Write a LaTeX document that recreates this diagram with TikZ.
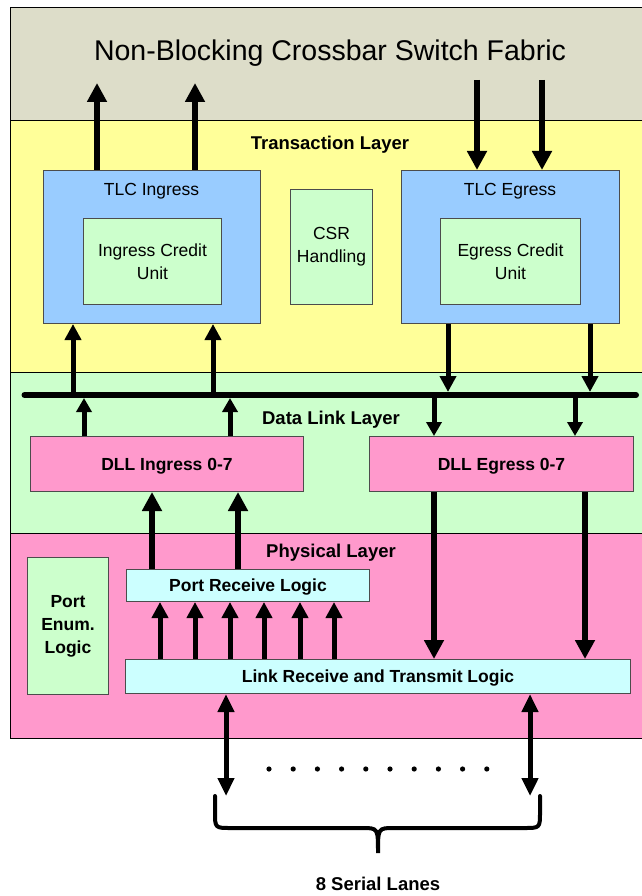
\documentclass[tikz,border=0pt]{standalone}
\usepackage{fontspec}
\setmainfont{Liberation Sans}
\usetikzlibrary{arrows.meta}
\definecolor{xbarc}{HTML}{DDDDC9}
\definecolor{tlc}{HTML}{FFFF99}
\definecolor{dlc}{HTML}{CCFFCC}
\definecolor{plc}{HTML}{FF99CC}
\definecolor{bluec}{HTML}{99CCFF}
\definecolor{greenc}{HTML}{CCFFCC}
\definecolor{cyanc}{HTML}{CCFFFF}
\begin{document}
\begin{tikzpicture}[x=1pt,y=-1pt,
  layer/.style={draw=black, line width=1pt, inner sep=0pt, anchor=north west},
  box/.style={draw=black!70, line width=1pt, inner sep=0pt, anchor=north west, align=center,
              font=\fontsize{17.5}{23}\selectfont},
  bbox/.style={box, font=\bfseries\fontsize{17.5}{23}\selectfont},
  onel/.style={text depth=0pt},
  txt/.style={inner sep=0pt, anchor=base, font=\fontsize{17.5}{23}\selectfont},
  ltxt/.style={inner sep=0pt, anchor=base, font=\bfseries\fontsize{18.5}{23}\selectfont},
  arr/.style={line width=6pt, -{Triangle[width=19pt,length=19pt]}},
  sarr/.style={line width=5pt, -{Triangle[width=16pt,length=16pt]}},
  barr/.style={line width=5pt, -{Triangle[width=15pt,length=14pt]}},
  darr/.style={line width=5pt, {Triangle[width=16pt,length=18pt]}-{Triangle[width=16pt,length=18pt]}}]
\useasboundingbox (0,0) rectangle (641,896);
\fill[white] (0,0) rectangle (641,896);

% layers
\node[layer, fill=xbarc, minimum width=640pt, minimum height=113pt] (xbar) at (10,7) {};
\node[layer, fill=tlc, minimum width=640pt, minimum height=252pt] (tl) at (10,120) {};
\node[layer, fill=dlc, minimum width=640pt, minimum height=161pt] (dl) at (10,372) {};
\node[layer, fill=plc, minimum width=640pt, minimum height=205pt] (pl) at (10,533) {};

\node[inner sep=0pt, anchor=base, font=\fontsize{28.5}{30}\selectfont] (title) at (330,61) {Non-Blocking Crossbar Switch Fabric};
\node[ltxt] (tllbl) at (330,150) {Transaction Layer};
\node[ltxt] (dllbl) at (331,424) {Data Link Layer};
\node[ltxt] (pllbl) at (331,557) {Physical Layer};

% transaction layer boxes
\node[box, fill=bluec, minimum width=217pt, minimum height=153pt] (tlcin) at (43,170) {};
\node[txt] (tlcinlbl) at (151.5,195) {TLC Ingress};
\node[box, fill=greenc, minimum width=138pt, minimum height=86pt] (icu) at (83,218) {Ingress Credit\\Unit};
\node[box, fill=greenc, minimum width=82pt, minimum height=115pt] (csr) at (290,189) {CSR\\Handling};
\node[box, fill=bluec, minimum width=218pt, minimum height=153pt] (tlceg) at (401,170) {};
\node[txt] (tlceglbl) at (510,195) {TLC Egress};
\node[box, fill=greenc, minimum width=140pt, minimum height=86pt] (ecu) at (440,218) {Egress Credit\\Unit};

% data link layer boxes
\node[bbox, onel, fill=plc, minimum width=273pt, minimum height=55pt] (dllin) at (30,436) {DLL Ingress 0-7};
\node[bbox, onel, fill=plc, minimum width=264pt, minimum height=55pt] (dlleg) at (369,436) {DLL Egress 0-7};

% physical layer boxes
\node[bbox, fill=greenc, minimum width=81pt, minimum height=137pt] (pel) at (27,557) {Port\\Enum.\\Logic};
\node[bbox, onel, fill=cyanc, minimum width=243pt, minimum height=32pt] (prl) at (126,569) {Port Receive Logic};
\node[bbox, onel, fill=cyanc, minimum width=505pt, minimum height=34pt] (lrt) at (125,659) {Link Receive and Transmit Logic};

% bus
\coordinate (busL) at (24.5,395);
\coordinate (busR) at (636,395);
\draw[line width=6pt, line cap=round] (busL) -- (busR);

% free ends
\coordinate (up1) at (97,83);
\coordinate (up2) at (195,83);
\coordinate (dn1) at (477,80);
\coordinate (dn2) at (542,80);
\coordinate (laneL) at (226,796);
\coordinate (laneR) at (530,796);

% crossbar connections
\draw[arr] (up1 |- tlcin.north) -- (up1);
\draw[arr] (up2 |- tlcin.north) -- (up2);
\draw[arr] (dn1) -- (dn1 |- tlceg.north);
\draw[arr] (dn2) -- (dn2 |- tlceg.north);

% bus <-> transaction
\draw[sarr] (73,0 |- busL) -- (73,0 |- tlcin.south);
\draw[sarr] (213,0 |- busL) -- (213,0 |- tlcin.south);
\draw[sarr, shorten >=3pt] (448,0 |- tlceg.south) -- (448,0 |- busL);
\draw[sarr, shorten >=3pt] (590,0 |- tlceg.south) -- (590,0 |- busL);

% bus <-> DLL
\draw[barr, shorten >=3pt] (84,0 |- dllin.north) -- (84,0 |- busL);
\draw[barr, shorten >=3pt] (230,0 |- dllin.north) -- (230,0 |- busL);
\draw[barr] (434,0 |- busL) -- (434,0 |- dlleg.north);
\draw[barr] (575,0 |- busL) -- (575,0 |- dlleg.north);

% DLL <-> physical
\draw[arr] (152,0 |- prl.north) -- (152,0 |- dllin.south);
\draw[arr] (238,0 |- prl.north) -- (238,0 |- dllin.south);
\draw[arr] (434,0 |- dlleg.south) -- (434,0 |- lrt.north);
\draw[arr] (585,0 |- dlleg.south) -- (585,0 |- lrt.north);

% link -> port receive
\foreach \x in {160,195,230,264,300,334}
  \draw[sarr] (\x,0 |- lrt.north) -- (\x,0 |- prl.south);

% serial lanes
\draw[darr] (laneL |- lrt.south) -- (laneL);
\draw[darr] (laneR |- lrt.south) -- (laneR);
\foreach \i in {0,...,9}
  \fill (269+24.2*\i,769) circle[radius=2.6pt];
\draw[line width=4pt, line cap=round]
  (215,796) -- (215,812) .. controls (215,828) .. (231,828) -- (362,828)
  .. controls (378,828) .. (378,853)
  .. controls (378,828) .. (394,828) -- (524,828)
  .. controls (540,828) .. (540,812) -- (540,796);
\node[inner sep=0pt, anchor=base, font=\bfseries\fontsize{18.5}{23}\selectfont] (lanes) at (378,890) {8 Serial Lanes};
\end{tikzpicture}
\end{document}
